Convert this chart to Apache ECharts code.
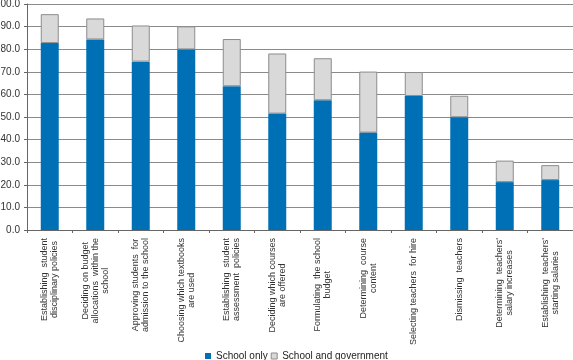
<!DOCTYPE html>
<html><head><meta charset="utf-8">
<script src="https://cdn.jsdelivr.net/npm/echarts@6/dist/echarts.min.js"></script>
<style>html,body{margin:0;padding:0;background:#fff}#c{width:573px;height:360px}</style>
</head><body><div id="c"></div>
<script>
var categories = [
  "Establishing  student\ndisciplinary policies",
  "Deciding on budget\nallocations  within the\nschool",
  "Approving students  for\nadmission to the school",
  "Choosing which textbooks\nare used",
  "Establishing  student\nassessment  policies",
  "Deciding which courses\nare offered",
  "Formulating  the school\nbudget",
  "Determining  course\ncontent",
  "Selecting teachers  for hire",
  "Dismissing  teachers",
  "Determining  teachers'\nsalary increases",
  "Establishing  teachers'\nstarting salaries"
];
var schoolOnly = [82.7, 84.3, 74.5, 79.9, 63.6, 51.5, 57.4, 43.1, 59.3, 49.9, 21.2, 22.1];
var schoolAndGov = [12.8, 9.3, 16.0, 10.2, 20.9, 26.6, 18.6, 27.0, 10.6, 9.5, 9.5, 6.6];
var yTicks = [0, 10, 20, 30, 40, 50, 60, 70, 80, 90, 100];

var chart = echarts.init(document.getElementById('c'), null, {renderer: 'canvas'});
chart.setOption({
  animation: false,
  textStyle: {fontFamily: 'Liberation Sans, Arial, sans-serif'},
  grid: {left: 27, right: 0, top: 4, bottom: 130, containLabel: false, outerBoundsMode: 'none'},
  legend: {
    left: 200, top: 346, itemWidth: 6, itemHeight: 6, itemGap: 3,
    icon: 'rect',
    textStyle: {fontSize: 10, color: '#222'},
    data: [
      {name: 'School only', itemStyle: {borderWidth: 0}},
      {name: 'School and government', itemStyle: {borderWidth: 1, borderColor: '#8c8c8c'}}
    ]
  },
  xAxis: {
    type: 'category', data: categories,
    axisLine: {lineStyle: {color: '#666'}},
    axisTick: {show: true, length: 3, lineStyle: {color: '#666'}},
    axisLabel: {
      interval: 0, rotate: 90, margin: 8, color: '#333', fontSize: 9,
      formatter: function (v) { return '{c|' + v + '}'; },
      rich: {c: {align: 'center', fontSize: 9, lineHeight: 10, color: '#333'}}
    }
  },
  yAxis: {
    type: 'value', min: yTicks[0], max: yTicks[yTicks.length - 1], interval: 10,
    axisLine: {show: true, lineStyle: {color: '#666'}},
    axisTick: {show: true, length: 3, lineStyle: {color: '#666'}},
    axisLabel: {color: '#333', fontSize: 10, margin: 7, formatter: function (v) { return v.toFixed(1); }},
    splitLine: {lineStyle: {color: '#8a8a8a', width: 1}}
  },
  series: [
    {name: 'School only', type: 'bar', stack: 's', data: schoolOnly, barWidth: 18,
     itemStyle: {color: '#0070b6'}},
    {name: 'School and government', type: 'bar', stack: 's', data: schoolAndGov, barWidth: 18,
     itemStyle: {color: '#d9d9d9', borderColor: '#8c8c8c', borderWidth: 1}}
  ]
});
</script></body></html>
